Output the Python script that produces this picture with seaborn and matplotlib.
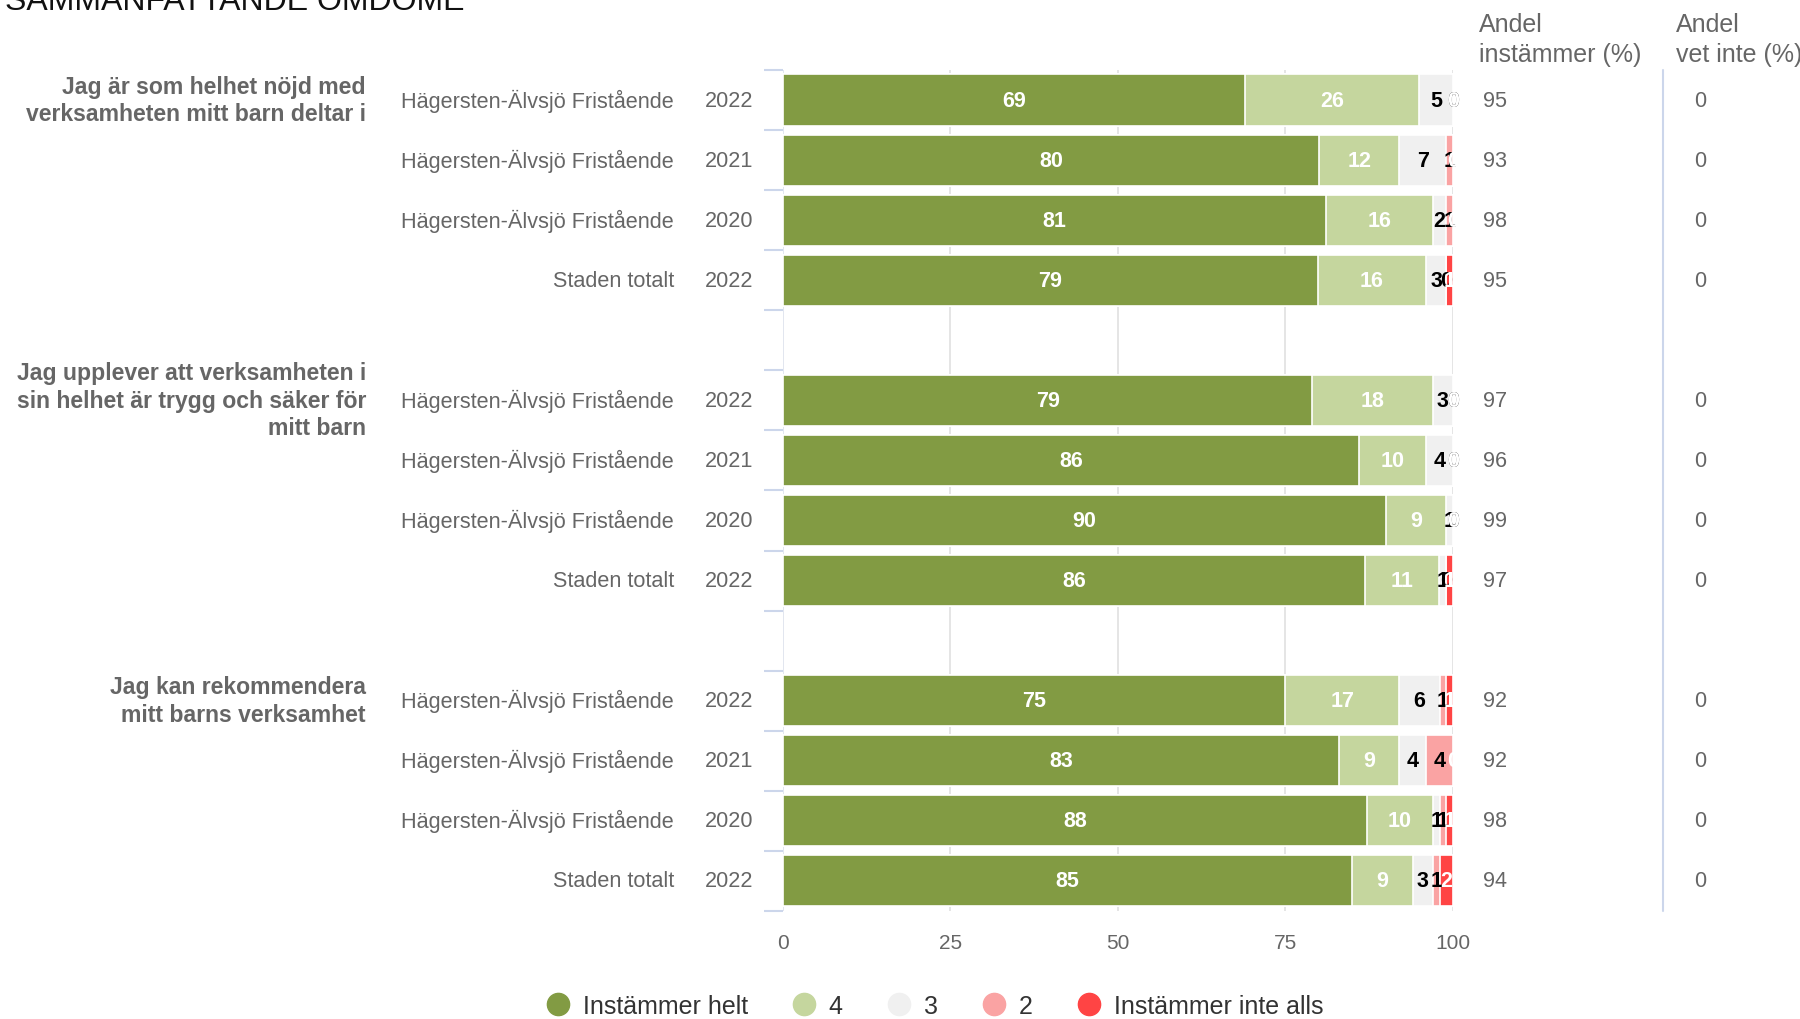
import numpy as np
import pandas as pd
import matplotlib.pyplot as plt
import matplotlib.transforms as mtransforms
from matplotlib.lines import Line2D
import seaborn as sns

# Data
fragor = ["Jag är som helhet nöjd med\nverksamheten mitt barn deltar i",
          "Jag upplever att verksamheten i\nsin helhet är trygg och säker för\nmitt barn",
          "Jag kan rekommendera\nmitt barns verksamhet"]
enheter = ["Hägersten-Älvsjö Fristående", "Hägersten-Älvsjö Fristående",
           "Hägersten-Älvsjö Fristående", "Staden totalt"] * 3
ar = ["2022", "2021", "2020", "2022"] * 3
instammer_helt = [69, 80, 81, 79, 79, 86, 90, 86, 75, 83, 88, 85]
fyra = [26, 12, 16, 16, 18, 10, 9, 11, 17, 9, 10, 9]
tre = [5, 7, 2, 3, 3, 4, 1, 1, 6, 4, 1, 3]
tva = [0, 1, 1, 0, 0, 0, 0, 0, 1, 4, 1, 1]
inte_alls = [0, 0, 0, 1, 0, 0, 0, 1, 1, 0, 1, 2]
andel_instammer = [95, 93, 98, 95, 97, 96, 99, 97, 92, 92, 98, 94]
andel_vet_inte = [0, 0, 0, 0, 0, 0, 0, 0, 0, 0, 0, 0]

serier = ["Instämmer helt", "4", "3", "2", "Instämmer inte alls"]
farger = ["#829b43", "#c5d69e", "#f0f0f0", "#faa3a3", "#ff4444"]
textfarg = ["white", "white", "black", "black", "white"]

# row slots (one empty slot between the questions)
pos = [0, 1, 2, 3, 5, 6, 7, 8, 10, 11, 12, 13]

df = pd.DataFrame({"pos": pos, "enhet": enheter, "ar": ar})
varden = np.array([instammer_helt, fyra, tre, tva, inte_alls], dtype=float)
andelar = varden / varden.sum(axis=0) * 100  # percent stacking
kum = np.cumsum(andelar, axis=0)

sns.set_theme(style="white")
plt.rcParams["font.family"] = ["Liberation Sans", "DejaVu Sans"]

fig = plt.figure(figsize=(18, 10.2), dpi=100)
ax = fig.add_axes([0.435, 0.1059, 0.3722, 0.8245])

for v in [25, 50, 75, 100]:
    ax.axvline(v, color="#e3e3e3", lw=1.3, zorder=0)
ax.axvline(0, color="#dfe4ee", lw=1.3, zorder=0)

# stacked bars: draw cumulative totals from the outermost segment inwards
for k in range(4, -1, -1):
    df["kum"] = kum[k]
    sns.barplot(data=df, x="kum", y="pos", orient="h", native_scale=True,
                color=farger[k], saturation=1, width=0.85, edgecolor="white",
                linewidth=1.2, errorbar=None, ax=ax, zorder=2)

# segment labels
for k in range(5):
    start = kum[k] - andelar[k]
    for i, p in enumerate(pos):
        ax.text(start[i] + andelar[k][i] / 2, p, f"{int(varden[k][i])}",
                ha="center", va="center", fontsize=15.5, fontweight="bold",
                color=textfarg[k], zorder=5)

ax.set_xlim(0, 100)
ax.set_ylim(13.5, -0.5)
ax.set_xticks([0, 25, 50, 75, 100])
ax.set_yticks(np.arange(-0.5, 14, 1))
ax.set_yticklabels([])
ax.set_xlabel("")
ax.set_ylabel("")
ax.tick_params(axis="x", length=0, pad=16, labelsize=15, labelcolor="#666666")
ax.tick_params(axis="y", left=True, length=14, width=1.5, color="#ccd6eb")
for s in ax.spines.values():
    s.set_visible(False)

trans = mtransforms.blended_transform_factory(fig.transFigure, ax.transData)
for i, p in enumerate(pos):
    fig.text(0.3744, p, enheter[i], transform=trans, ha="right", va="center",
             fontsize=15.6, color="#666666")
    fig.text(0.3917, p, ar[i], transform=trans, ha="left", va="center",
             fontsize=15.6, color="#666666")
    fig.text(0.824, p, f"{andel_instammer[i]}", transform=trans, ha="left",
             va="center", fontsize=15.6, color="#666666")
    fig.text(0.941, p, f"{andel_vet_inte[i]}", transform=trans, ha="left",
             va="center", fontsize=15.6, color="#666666")

for j, fraga in enumerate(fragor):
    fig.text(0.2033, pos[j * 4], fraga, transform=trans, ha="right", va="center",
             fontsize=16.6, fontweight="bold", color="#666666", linespacing=1.25)

# right-hand columns
fig.text(0.8215, 1 - 40 / 1020, "Andel\ninstämmer (%)", ha="left", va="center",
         fontsize=18, color="#666666", linespacing=1.32)
fig.text(0.931, 1 - 40 / 1020, "Andel\nvet inte (%)", ha="left", va="center",
         fontsize=18, color="#666666", linespacing=1.32)
fig.add_artist(Line2D([0.924, 0.924], [0.1059, 0.9304], color="#ccd6eb", lw=1.5))

fig.text(0.003, 1 - 10 / 1020, "SAMMANFATTANDE OMDÖME", ha="left", va="baseline",
         fontsize=23, color="#111111")

handles = [Line2D([0], [0], marker="o", color="none", markerfacecolor=c,
                  markeredgecolor=c, markersize=16) for c in farger]
fig.legend(handles, serier, loc="center", bbox_to_anchor=(0.519, 0.0127), ncol=5,
           frameon=False, fontsize=18, handlelength=1.0, handletextpad=0.5,
           columnspacing=1.74, labelcolor="#333333")

fig.savefig("out.png", dpi=100)
